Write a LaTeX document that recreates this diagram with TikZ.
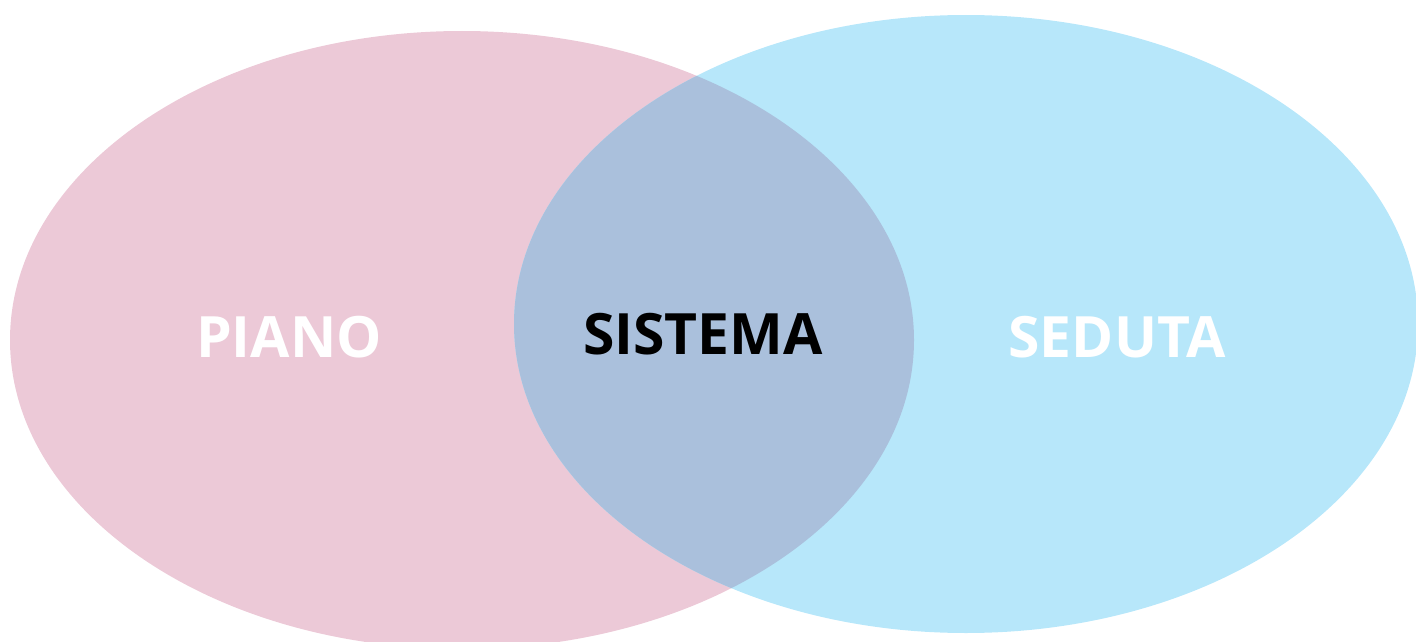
\documentclass[tikz,border=0pt]{standalone}
\usepackage{fontspec}
\setmainfont{Open Sans}
\definecolor{pianopink}{RGB}{236,201,215}
\definecolor{sedutablue}{RGB}{183,231,250}
\definecolor{sistemablue}{RGB}{170,192,220}
\begin{document}
\begin{tikzpicture}
  [
    x=1pt, y=-1pt,
    label/.style={font=\fontsize{57}{60}\selectfont\bfseries, inner sep=0pt},
  ]
\useasboundingbox (0,0) rectangle (1416,642);

\def\RX{452}
\def\RY{309}
\coordinate (P) at (462,340);
\coordinate (S) at (966,324);

\fill[pianopink] (P) ellipse [x radius=\RX, y radius=\RY];
\fill[sedutablue] (S) ellipse [x radius=\RX, y radius=\RY];
\begin{scope}
  \clip (P) ellipse [x radius=\RX, y radius=\RY];
  \fill[sistemablue] (S) ellipse [x radius=\RX, y radius=\RY];
\end{scope}

\node[label, white] (piano) at (289,337) {PIANO};
\node[label, black] (sistema) at (703,334) {SISTEMA};
\node[label, white] (seduta) at (1117,337) {SEDUTA};

\end{tikzpicture}
\end{document}
